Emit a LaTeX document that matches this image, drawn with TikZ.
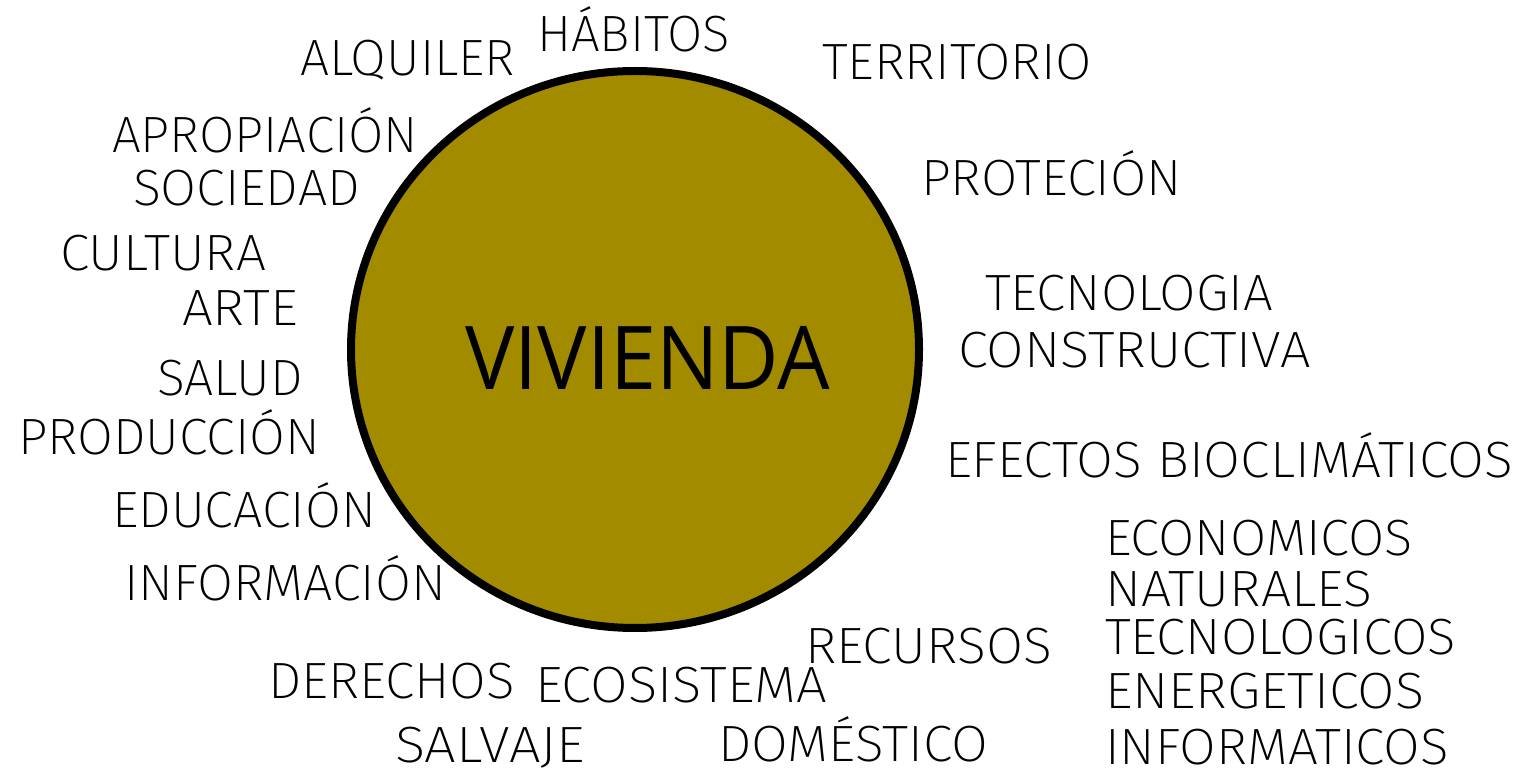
\documentclass[tikz,border=0pt]{standalone}
\usepackage{fontspec}
\usepackage{graphicx}
\usetikzlibrary{shapes.geometric}
\setmainfont{Fira Sans ExtraLight}
\newfontfamily\titlefont{Open Sans}
\definecolor{vivfill}{RGB}{163,139,0}
\newcommand\fitw[2]{\resizebox{#1pt}{\height}{#2}}
\tikzset{
  lab/.style={anchor=base west, inner sep=0pt, outer sep=0pt, text=black, font=\fontsize{51}{51}\selectfont},
  hub/.style={ellipse, draw=black, line width=8pt, fill=vivfill, inner sep=0pt, minimum width=568pt, minimum height=557pt},
  title/.style={anchor=base west, inner sep=0pt, font=\titlefont\fontsize{88}{88}\selectfont}
}
\begin{document}
\begin{tikzpicture}[x=1pt,y=-1pt]
\useasboundingbox (0,0) rectangle (1519,775);
\node[hub] (viv) at (635,349.5) {};
\node[title] (vivtext) at (465,390) {\fitw{365}{VIVIENDA}};
% top / left
\node[lab] (habitos) at (537,52) {\fitw{193}{HÁBITOS}};
\node[lab] (alquiler) at (300,76) {\fitw{215}{ALQUILER}};
\node[lab] (apropiacion) at (112,153) {\fitw{306}{APROPIACIÓN}};
\node[lab] (sociedad) at (133,206) {\fitw{227}{SOCIEDAD}};
\node[lab] (cultura) at (60,271) {\fitw{206}{CULTURA}};
\node[lab] (arte) at (182,326) {\fitw{116}{ARTE}};
\node[lab] (salud) at (157,396) {\fitw{146}{SALUD}};
\node[lab] (produccion) at (18,455) {\fitw{302}{PRODUCCIÓN}};
\node[lab] (educacion) at (112,528) {\fitw{264}{EDUCACIÓN}};
\node[lab] (informacion) at (124,601) {\fitw{322}{INFORMACIÓN}};
% right
\node[lab] (territorio) at (822,80) {\fitw{270}{TERRITORIO}};
\node[lab] (protecion) at (921,196) {\fitw{261}{PROTECIÓN}};
\node[lab] (tecnologia) at (985,311) {\fitw{288}{TECNOLOGIA}};
\node[lab] (constructiva) at (958,368) {\fitw{353}{CONSTRUCTIVA}};
\node[lab] (efectos) at (945,478) {\fitw{568}{EFECTOS BIOCLIMÁTICOS}};
\node[lab] (economicos) at (1105,555) {\fitw{308}{ECONOMICOS}};
\node[lab] (naturales) at (1105,606) {\fitw{267}{NATURALES}};
\node[lab] (tecnologicos) at (1105,654) {\fitw{351}{TECNOLOGICOS}};
\node[lab] (energeticos) at (1105,708) {\fitw{319}{ENERGETICOS}};
\node[lab] (informaticos) at (1105,764) {\fitw{344}{INFORMATICOS}};
% bottom
\node[lab] (recursos) at (805,663) {\fitw{247}{RECURSOS}};
\node[lab] (derechos) at (268,698) {\fitw{247}{DERECHOS}};
\node[lab] (ecosistema) at (535,702) {\fitw{292}{ECOSISTEMA}};
\node[lab] (salvaje) at (395,762.5) {\fitw{190}{SALVAJE}};
\node[lab] (domestico) at (718,761) {\fitw{270}{DOMÉSTICO}};
\end{tikzpicture}
\end{document}
